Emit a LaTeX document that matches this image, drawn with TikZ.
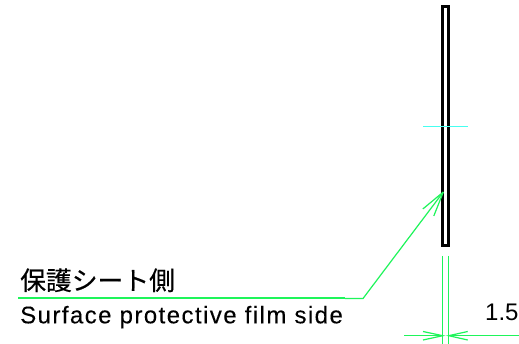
\documentclass[tikz,border=0pt]{standalone}
\usepackage{fontspec}
\setmainfont{Liberation Sans}
\newfontfamily\cjk[FakeBold=0.3]{Noto Sans CJK JP}
\newfontfamily\spaced[LetterSpace=6,FakeBold=0.15]{Liberation Sans}
\definecolor{leadgreen}{RGB}{30,245,90}
\definecolor{centercyan}{RGB}{70,255,240}
\tikzset{
  part/.style={draw=black,line width=2.7pt,fill=white,inner sep=0pt,minimum width=6pt,minimum height=239pt},
  dimline/.style={draw=leadgreen,line width=1.2pt},
  lab/.style={inner sep=0pt,anchor=base west,text=black}
}
\begin{document}
\begin{tikzpicture}[x=1pt,y=-1pt]
\useasboundingbox (0,0) rectangle (519,344);
\fill[white] (0,0) rectangle (519,344);
\node[part] (plate) at (445.6,126.2) {};
\coordinate (cl) at (423,126.5);
\coordinate (cr) at (467.5,126.5);
\draw[centercyan,line width=1.2pt] (cl) -- (cr);
\coordinate (ls) at (18,298.5);
\coordinate (lm) at (345,298.5);
\coordinate (lk) at (363,298.5);
\coordinate (lt) at (443.3,192);
\draw[leadgreen,line width=2pt] (ls) -- (lm);
\draw[dimline] (lm) -- (lk) -- (lt);
\draw[dimline] (lt) -- ++(-20.5,17) (lt) -- ++(-9.5,24);
\coordinate (dla) at (442.7,256);
\coordinate (dlb) at (442.7,344);
\coordinate (dra) at (448.7,256);
\coordinate (drb) at (448.7,344);
\draw[dimline] (dla) -- (dlb);
\draw[dimline] (dra) -- (drb);
\coordinate (al) at (404,335.7);
\coordinate (ar) at (519,335.7);
\coordinate (tl) at (442.7,335.7);
\coordinate (tr) at (448.7,335.7);
\draw[dimline] (al) -- (tl);
\draw[dimline] (ar) -- (tr);
\draw[dimline] (423,331.5) -- (tl) -- (423,340);
\draw[dimline] (467.7,331.5) -- (tr) -- (467.7,340);
\node[lab,font=\cjk\fontsize{25.8pt}{25.8pt}\selectfont] (jp) at (20,290) {保護シート側};
\node[lab,font=\spaced\fontsize{24pt}{24pt}\selectfont] (en) at (20,323.3) {Surface protective film side};
\node[lab,font=\fontsize{24pt}{24pt}\selectfont] (dim) at (485,320.7) {1.5};
\end{tikzpicture}
\end{document}
